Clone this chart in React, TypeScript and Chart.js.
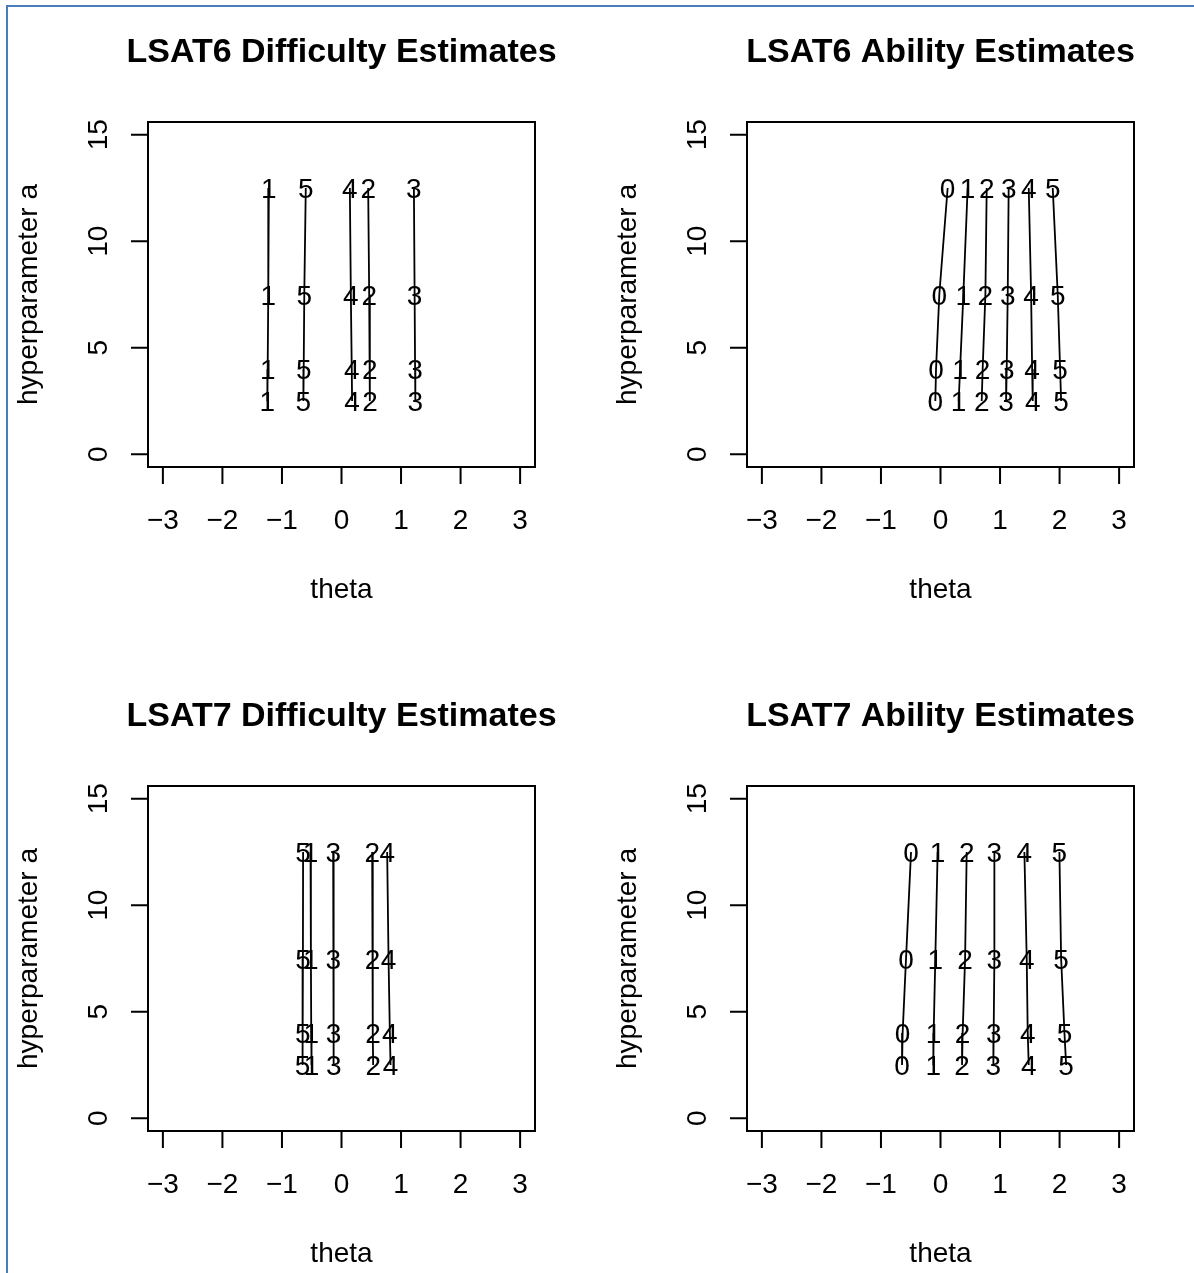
import React, { useEffect, useRef } from 'react';
import { Chart, registerables } from 'chart.js';

Chart.register(...registerables);

const FONT = '"Liberation Sans", Arial, Helvetica, sans-serif';

// hyperparameter a values (y positions of each row of labels)
const hyperA = [12.5, 7.5, 4, 2.5];

const xTicks = [-3, -2, -1, 0, 1, 2, 3];
const yTicks = [0, 5, 10, 15];
const xTickLabels = ['\u22123', '\u22122', '\u22121', '0', '1', '2', '3'];
const yTickLabels = ['0', '5', '10', '15'];

const xAxisTitle = 'theta';
const yAxisTitle = 'hyperparameter a';

const titles = [
  'LSAT6 Difficulty Estimates',
  'LSAT6 Ability Estimates',
  'LSAT7 Difficulty Estimates',
  'LSAT7 Ability Estimates',
];

// LSAT6 difficulty estimates (theta), one array per item, in hyperA order
const lsat6DiffItem1 = [-1.22, -1.23, -1.24, -1.245];
const lsat6DiffItem2 = [0.448, 0.465, 0.474, 0.478];
const lsat6DiffItem3 = [1.216, 1.228, 1.236, 1.24];
const lsat6DiffItem4 = [0.14, 0.157, 0.172, 0.178];
const lsat6DiffItem5 = [-0.6, -0.625, -0.635, -0.64];

// LSAT6 ability estimates (theta), one array per score 0-5
const lsat6Ability0 = [0.12, -0.02, -0.075, -0.087];
const lsat6Ability1 = [0.456, 0.384, 0.329, 0.305];
const lsat6Ability2 = [0.776, 0.754, 0.708, 0.692];
const lsat6Ability3 = [1.145, 1.129, 1.112, 1.102];
const lsat6Ability4 = [1.482, 1.522, 1.539, 1.549];
const lsat6Ability5 = [1.885, 1.969, 2.009, 2.026];

// LSAT7 difficulty estimates
const lsat7DiffItem1 = [-0.52, -0.514, -0.508, -0.503];
const lsat7DiffItem2 = [0.515, 0.522, 0.528, 0.532];
const lsat7DiffItem3 = [-0.14, -0.136, -0.132, -0.128];
const lsat7DiffItem4 = [0.767, 0.79, 0.812, 0.824];
const lsat7DiffItem5 = [-0.645, -0.648, -0.652, -0.656];

// LSAT7 ability estimates
const lsat7Ability0 = [-0.495, -0.579, -0.636, -0.646];
const lsat7Ability1 = [-0.048, -0.087, -0.115, -0.12];
const lsat7Ability2 = [0.44, 0.413, 0.372, 0.362];
const lsat7Ability3 = [0.905, 0.905, 0.893, 0.888];
const lsat7Ability4 = [1.409, 1.448, 1.465, 1.482];
const lsat7Ability5 = [1.997, 2.026, 2.082, 2.11];

const itemLabels = ['1', '2', '3', '4', '5'];
const scoreLabels = ['0', '1', '2', '3', '4', '5'];

const panels = [
  { title: titles[0], labels: itemLabels, series: [lsat6DiffItem1, lsat6DiffItem2, lsat6DiffItem3, lsat6DiffItem4, lsat6DiffItem5], left: 0, top: 0 },
  { title: titles[1], labels: scoreLabels, series: [lsat6Ability0, lsat6Ability1, lsat6Ability2, lsat6Ability3, lsat6Ability4, lsat6Ability5], left: 599, top: 0 },
  { title: titles[2], labels: itemLabels, series: [lsat7DiffItem1, lsat7DiffItem2, lsat7DiffItem3, lsat7DiffItem4, lsat7DiffItem5], left: 0, top: 664 },
  { title: titles[3], labels: scoreLabels, series: [lsat7Ability0, lsat7Ability1, lsat7Ability2, lsat7Ability3, lsat7Ability4, lsat7Ability5], left: 599, top: 664 },
];

const W = 600;
const H = 664;
const FS = 28;

const rPlotPlugin = {
  id: 'rPlot',
  afterDatasetsDraw(chart: any) {
    const ctx = chart.ctx;
    ctx.save();
    ctx.fillStyle = '#000';
    ctx.font = `${FS}px ${FONT}`;
    ctx.textAlign = 'center';
    ctx.textBaseline = 'alphabetic';
    chart.data.datasets.forEach((ds: any, i: number) => {
      const meta = chart.getDatasetMeta(i);
      meta.data.forEach((el: any) => {
        ctx.fillText(ds.label, el.x, el.y + 0.358 * FS);
      });
    });
    ctx.restore();
  },
  afterDraw(chart: any) {
    const ctx = chart.ctx;
    const { left, right, top, bottom } = chart.chartArea;
    const xs = chart.scales.x;
    const ys = chart.scales.y;
    const title = chart.options.plugins.rPlot.title;
    ctx.save();
    ctx.strokeStyle = '#000';
    ctx.fillStyle = '#000';
    ctx.lineWidth = 2;
    ctx.lineCap = 'butt';
    ctx.strokeRect(left, top, right - left, bottom - top);

    const tickLen = 17;
    ctx.beginPath();
    xTicks.forEach((v) => {
      const px = xs.getPixelForValue(v);
      ctx.moveTo(px, bottom);
      ctx.lineTo(px, bottom + tickLen);
    });
    yTicks.forEach((v) => {
      const py = ys.getPixelForValue(v);
      ctx.moveTo(left, py);
      ctx.lineTo(left - tickLen, py);
    });
    ctx.stroke();

    ctx.font = `${FS}px ${FONT}`;
    ctx.textAlign = 'center';
    ctx.textBaseline = 'alphabetic';
    xTicks.forEach((v, i) => {
      ctx.fillText(xTickLabels[i], xs.getPixelForValue(v), bottom + 62);
    });
    yTicks.forEach((v, i) => {
      const py = ys.getPixelForValue(v);
      ctx.save();
      ctx.translate(left - 41, py);
      ctx.rotate(-Math.PI / 2);
      ctx.fillText(yTickLabels[i], 0, 0);
      ctx.restore();
    });

    const cx = (left + right) / 2;
    const cy = (top + bottom) / 2;
    ctx.fillText(xAxisTitle, cx, bottom + 131);
    ctx.save();
    ctx.translate(left - 111, cy);
    ctx.rotate(-Math.PI / 2);
    ctx.fillText(yAxisTitle, 0, 0);
    ctx.restore();

    ctx.font = `bold 34px ${FONT}`;
    ctx.fillText(title, cx, top - 60);
    ctx.restore();
  },
};

function Panel(props: { title: string; labels: string[]; series: number[][]; left: number; top: number }) {
  const ref = useRef<HTMLCanvasElement>(null);
  useEffect(() => {
    const canvas = ref.current;
    if (!canvas) return;
    const chart = new Chart(canvas, {
      type: 'scatter',
      data: {
        datasets: props.series.map((vals, i) => ({
          label: props.labels[i],
          data: vals.map((x, j) => ({ x, y: hyperA[j] })),
          showLine: true,
          borderColor: '#000',
          backgroundColor: '#000',
          borderWidth: 1.8,
          pointRadius: 0,
          pointHoverRadius: 0,
        })),
      },
      options: {
        animation: false,
        responsive: false,
        devicePixelRatio: 1,
        events: [],
        layout: { padding: { left: 148, top: 122, right: 65, bottom: 197 } },
        scales: {
          x: { type: 'linear', min: -3.25, max: 3.25, display: false },
          y: { type: 'linear', min: -0.6, max: 15.6, display: false },
        },
        plugins: {
          legend: { display: false },
          tooltip: { enabled: false },
          title: { display: false },
          rPlot: { title: props.title },
        } as any,
      },
      plugins: [rPlotPlugin],
    });
    return () => chart.destroy();
  }, []);
  return (
    <canvas
      ref={ref}
      width={W}
      height={H}
      style={{ position: 'absolute', left: props.left, top: props.top, width: W, height: H }}
    />
  );
}

export default function App() {
  return (
    <div style={{ position: 'absolute', left: 0, top: 0, width: 1194, height: 1273, background: '#fff', overflow: 'hidden' }}>
      <div
        style={{
          position: 'absolute',
          left: 6,
          top: 5,
          width: 1200,
          height: 1280,
          borderLeft: '2px solid #4a7ebb',
          borderTop: '2px solid #4a7ebb',
        }}
      />
      {panels.map((p, i) => (
        <Panel key={i} {...p} />
      ))}
    </div>
  );
}
